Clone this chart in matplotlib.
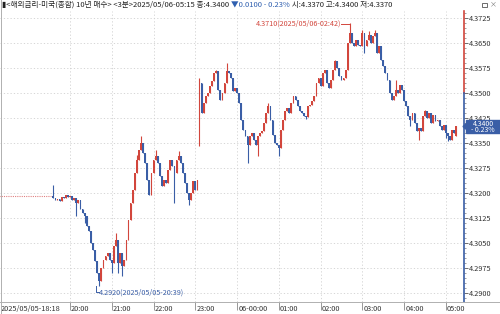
import matplotlib
matplotlib.use("Agg")
import matplotlib.pyplot as plt
from matplotlib.patches import Rectangle, Polygon
from matplotlib.ticker import MultipleLocator, FixedLocator

plt.rcParams['font.family'] = ['Noto Sans CJK KR', 'DejaVu Sans']

# ---------------- data ----------------
# 3-minute bars, first bar at 19:33 (minutes after 18:18 = 75)
start_min = 75
bar_min = 3
closes = [
    4.3192, 4.3186, 4.3180, 4.3183, 4.3176, 4.3188, 4.3185, 4.3195, 4.3188, 4.3190,
    4.3180, 4.3186, 4.3170, 4.3180, 4.3152, 4.3140, 4.3130, 4.3100, 4.3085, 4.3050,
    4.3030, 4.2995, 4.2960, 4.2935, 4.2975, 4.3000, 4.3010, 4.3020, 4.3000, 4.2990,
    4.3040, 4.3060, 4.2990, 4.3020, 4.2980, 4.3000, 4.3060, 4.3120, 4.3170, 4.3210,
    4.3260, 4.3300, 4.3330, 4.3350, 4.3320, 4.3290, 4.3240, 4.3195, 4.3260, 4.3300,
    4.3310, 4.3290, 4.3250, 4.3220, 4.3240, 4.3230, 4.3270, 4.3300, 4.3280, 4.3260,
    4.3300, 4.3310, 4.3290, 4.3260, 4.3230, 4.3200, 4.3180, 4.3200, 4.3235, 4.3210,
    4.3240, 4.3530, 4.3440, 4.3470, 4.3490, 4.3500, 4.3520, 4.3535, 4.3560, 4.3565,
    4.3510, 4.3480, 4.3500, 4.3530, 4.3565, 4.3560, 4.3545, 4.3505, 4.3515, 4.3500,
    4.3470, 4.3420, 4.3390, 4.3370, 4.3345, 4.3370, 4.3380, 4.3360, 4.3345, 4.3370,
    4.3380, 4.3385, 4.3410, 4.3440, 4.3460, 4.3420, 4.3375, 4.3350, 4.3345, 4.3335,
    4.3390, 4.3420, 4.3445, 4.3455, 4.3440, 4.3470, 4.3490, 4.3480, 4.3460, 4.3445,
    4.3440, 4.3430, 4.3428, 4.3460, 4.3465, 4.3475, 4.3490, 4.3530, 4.3545, 4.3520,
    4.3560, 4.3570, 4.3530, 4.3515, 4.3540, 4.3570, 4.3595, 4.3575, 4.3550, 4.3540,
    4.3545, 4.3570, 4.3650, 4.3680, 4.3650, 4.3640, 4.3660, 4.3645, 4.3640, 4.3680,
    4.3640, 4.3660, 4.3675, 4.3650, 4.3670, 4.3680, 4.3620, 4.3640, 4.3600, 4.3580,
    4.3560, 4.3540, 4.3500, 4.3480, 4.3490, 4.3510, 4.3500, 4.3525, 4.3510, 4.3475,
    4.3460, 4.3430, 4.3420, 4.3440, 4.3410, 4.3385, 4.3395, 4.3385, 4.3430, 4.3445,
    4.3425, 4.3440, 4.3410, 4.3435, 4.3415, 4.3420, 4.3400, 4.3390, 4.3405, 4.3380,
    4.3370, 4.3360, 4.3390, 4.3380, 4.3400,
]
first_open = 4.3190
open_overrides = {71: 4.3380, 194: 4.3370}
high_wicks = {1: 4.3225, 31: 4.3080, 41: 4.3315, 43: 4.3370, 50: 4.3330, 61: 4.3325,
              71: 4.3545, 79: 4.3570, 84: 4.3590, 104: 4.3470, 136: 4.3600,
              143: 4.3710, 149: 4.3690, 152: 4.3685, 155: 4.3690, 165: 4.3540,
              179: 4.3450}
low_wicks = {12: 4.3130, 16: 4.3110, 23: 4.2920, 29: 4.2960, 32: 4.2960, 34: 4.2950,
             59: 4.3170, 66: 4.3165, 71: 4.3340, 94: 4.3290, 99: 4.3310, 109: 4.3310,
             122: 4.3422, 150: 4.3620, 172: 4.3400, 176: 4.3359, 189: 4.3365,
             190: 4.3355}
prev_flat = 4.3190          # flat dotted line before first trade
prev_close = 4.3500         # reference price (axis colour split)
last_price = 4.3400
y_ticks = [4.2900, 4.2975, 4.3050, 4.3125, 4.3200, 4.3275, 4.3350, 4.3425,
           4.3500, 4.3575, 4.3650, 4.3725]
hour_minutes = [102, 162, 222, 282, 342, 402, 462, 522, 582, 642]
hour_labels = ['20:00', '21:00', '22:00', '23:00', '06-00:00', '01:00', '02:00',
               '03:00', '04:00', '05:00']
title_black1 = "▮<해외금리-미국(종합) 10년 매수> <3분>2025/05/06-05:15 종:4.3400 "
title_blue = "▼0.0100 - 0.23%"
title_black2 = " 시:4.3370 고:4.3400 저:4.3370"
hi_label = "4.3710(2025/05/06-02:42)"
lo_label = "4.2920(2025/05/05-20:39)"
hi_min, hi_val = 504, 4.3710
lo_min, lo_val = 141, 4.2920

# ---------------- figure ----------------
W, H = 500, 314
fig = plt.figure(figsize=(W / 100, H / 100), dpi=100)
fig.patch.set_facecolor('white')
ax_l, ax_r, ax_t, ax_b = 0, 464, 11, 302
ax = fig.add_axes([ax_l / W, (H - ax_b) / H, (ax_r - ax_l) / W, (ax_b - ax_t) / H])
ax.set_facecolor('white')
ax.set_xlim(1.4, 668)
ax.set_ylim(4.2873, 4.3746)

RED = '#d2463c'
BLUE = '#3a5ea6'

# grid
for v in y_ticks:
    ax.axhline(v, color='#d0d0d0', lw=0.6, ls=(0, (1.5, 2.5)), zorder=0)
for m in hour_minutes:
    ax.axvline(m, color='#d0d0d0', lw=0.6, ls=(0, (1.5, 2.5)), zorder=0)

# flat dotted line before data
ax.plot([0, start_min], [prev_flat, prev_flat], color='#e08080', lw=0.8,
        ls=(0, (1, 1)), zorder=1)

# candles
prev = first_open
for i, c in enumerate(closes):
    o = open_overrides.get(i, prev)
    t = start_min + bar_min * i
    col = RED if c >= o else BLUE
    hi = max(high_wicks.get(i, max(o, c)), o, c)
    lo = min(low_wicks.get(i, min(o, c)), o, c)
    ax.vlines(t, lo, hi, color=col, lw=0.8, zorder=2)
    h = abs(c - o)
    if h < 0.00018:
        h = 0.00018
    ax.bar(t, h, bottom=min(o, c), width=2.6, color=col, lw=0, zorder=3)
    prev = c

# high / low annotations
ax.plot([hi_min - 12, hi_min - 1], [hi_val - 0.0003, hi_val - 0.0003], color=RED, lw=0.7)
ax.text(hi_min - 13, hi_val - 0.0003, hi_label, color=RED, fontsize=5.2,
        ha='right', va='center')
ax.plot([lo_min - 1, lo_min - 1, lo_min + 2], [lo_val + 0.0002, lo_val - 0.0018, lo_val - 0.0018],
        color=BLUE, lw=0.7)
ax.text(lo_min + 2.5, lo_val - 0.0018, lo_label, color=BLUE, fontsize=5.2,
        ha='left', va='center')

# axes spines / ticks
for s in ['top', 'left', 'bottom', 'right']:
    ax.spines[s].set_visible(False)
ax.plot([1, 1], [prev_close, 4.3746], transform=ax.get_yaxis_transform(),
        color=RED, lw=1.2, clip_on=False, zorder=5)
ax.plot([1, 1], [4.2873, prev_close], transform=ax.get_yaxis_transform(),
        color=BLUE, lw=1.2, clip_on=False, zorder=5)

ax.yaxis.tick_right()
ax.yaxis.set_major_locator(FixedLocator(y_ticks))
ax.set_yticklabels([f"{v:.4f}" for v in y_ticks])
ax.yaxis.set_minor_locator(MultipleLocator(0.0015))
ax.tick_params(axis='y', which='major', direction='out', length=3, width=0.6,
               color='#555555', pad=0.5, labelsize=5.3, labelcolor='#333333')
ax.tick_params(axis='y', which='minor', direction='out', length=1.5, width=0.5,
               color='#777777')

ax.set_xticks(hour_minutes)
ax.set_xticklabels([])
ax.tick_params(axis='x', which='major', direction='out', length=6, width=0.6,
               color='#888888')

xt = ax.get_xaxis_transform()
for m, lab in zip(hour_minutes, hour_labels):
    ax.text(m + 1.5, -0.012, lab, transform=xt, fontsize=5.3, ha='left', va='top',
            color='#333333')
ax.text(2, -0.012, "2025/05/05-18:18", transform=xt, fontsize=5.3, ha='left',
        va='top', color='#333333')

# frame lines
fig.add_artist(plt.Line2D([0, 1], [(H - ax_b) / H] * 2, color='#b0b0b0', lw=0.7))
fig.add_artist(plt.Line2D([0, 1], [0.5 / H] * 2, color='#b0b0b0', lw=0.7))
fig.add_artist(plt.Line2D([0.5 / W] * 2, [0, 1], color='#b0b0b0', lw=0.7))

# current price tag (sits over the 4.3425 label, as in the original)
ptop = 120
ph = 13 / H
py = (H - ptop) / H
fig.add_artist(Rectangle((466 / W, py - ph), 34 / W, ph, color=BLUE, zorder=10,
                         transform=fig.transFigure))
fig.add_artist(Polygon([(463 / W, py - ph / 2), (466.5 / W, py - ph / 2 + 3 / H),
                        (466.5 / W, py - ph / 2 - 3 / H)], closed=True, color=BLUE,
                       zorder=10, transform=fig.transFigure))
fig.text(483 / W, (H - ptop - 3.6) / H, "4.3400", color='white', fontsize=5.0,
         ha='center', va='center', zorder=11)
fig.text(483 / W, (H - ptop - 9.6) / H, "- 0.23%", color='white', fontsize=5.0,
         ha='center', va='center', zorder=11)

# title
tx = fig.text(2 / W, (H - 5) / H, title_black1, fontsize=5.5, color='#222222',
              ha='left', va='center')
fig.canvas.draw()
bb = tx.get_window_extent()
tx2 = fig.text(bb.x1 / W, (H - 5) / H, title_blue, fontsize=5.5, color='#3060b0',
               ha='left', va='center')
fig.canvas.draw()
bb2 = tx2.get_window_extent()
fig.text(bb2.x1 / W, (H - 5) / H, title_black2, fontsize=5.5, color='#222222',
         ha='left', va='center')

# window icons
fig.add_artist(Rectangle((482 / W, (H - 7) / H), 5 / W, 4 / H, fill=False,
                         edgecolor='#555555', lw=0.6, transform=fig.transFigure))
fig.text(493 / W, (H - 4.5) / H, "×", fontsize=5, color='#777777', ha='center',
         va='center')

fig.savefig('out.png', dpi=100, facecolor='white')
